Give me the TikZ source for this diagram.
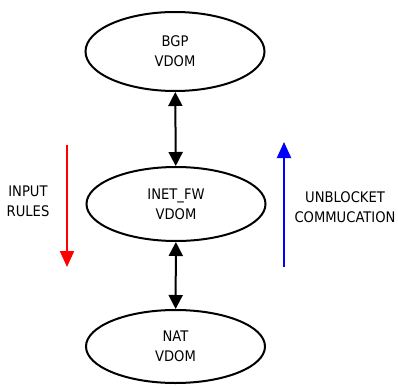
\documentclass[tikz,border=0pt]{standalone}
\usepackage{fontspec}
\setmainfont{DejaVu Sans Condensed}
\usetikzlibrary{shapes.geometric,arrows.meta}
\begin{document}
\begin{tikzpicture}[x=1pt,y=-1pt,
  vdom/.style={ellipse,draw=black,line width=2pt,inner sep=0pt,minimum width=179pt,minimum height=76pt,align=center,font=\fontsize{14.6}{20}\selectfont},
  lbl/.style={align=center,inner sep=0pt,font=\fontsize{14.6}{20}\selectfont},
  link/.style={line width=2pt,{Triangle[width=14pt,length=14pt]}-{Triangle[width=14pt,length=14pt]}},
  flow/.style={line width=2pt,-{Triangle[width=14pt,length=16pt]}}]
\useasboundingbox (0,0) rectangle (398,385);
\node[vdom,minimum height=79pt] (bgp) at (175,51.5) {BGP\\VDOM};
\node[vdom,minimum height=74pt] (inet) at (176,204) {INET\_FW\\VDOM};
\node[vdom,minimum height=73pt] (nat) at (175.5,346.5) {NAT\\VDOM};
\draw[link] (bgp) -- (inet);
\draw[link] (inet) -- (nat);
\coordinate (r1) at (67,145);
\coordinate (r2) at (67,267);
\coordinate (b1) at (284,267);
\coordinate (b2) at (284,142);
\draw[flow,red] (r1) -- (r2);
\draw[flow,blue] (b1) -- (b2);
\node[lbl] (in) at (28,201.5) {INPUT\\RULES};
\node[lbl] (un) at (345,207) {UNBLOCKET\\COMMUCATION};
\end{tikzpicture}
\end{document}
